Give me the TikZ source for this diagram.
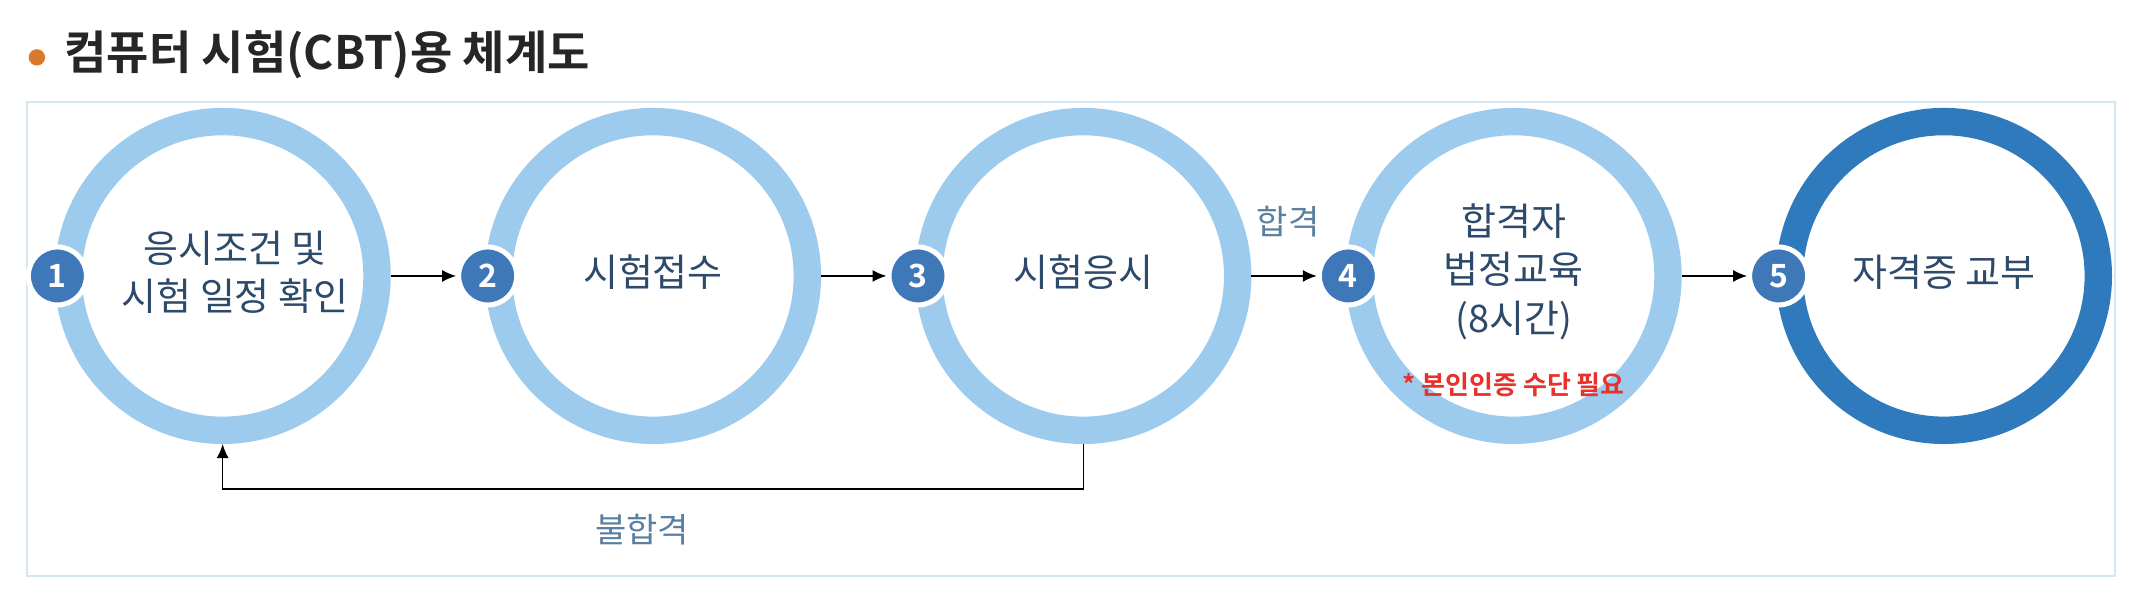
\documentclass[tikz,border=0pt]{standalone}
\usepackage{fontspec}
\newfontfamily\kr{Noto Sans CJK KR}
\newfontfamily\krb{Noto Sans CJK KR Bold}
\usetikzlibrary{arrows.meta}
\definecolor{ringc}{HTML}{9DCBEE}
\definecolor{ringd}{HTML}{2F79BD}
\definecolor{badgec}{HTML}{3E78B8}
\definecolor{txtc}{HTML}{2E4A6B}
\definecolor{lblc}{HTML}{5A7FA0}
\definecolor{redc}{HTML}{E8312A}
\definecolor{framec}{HTML}{D6E6F0}
\definecolor{bulc}{HTML}{D97A2B}
\begin{document}
\begin{tikzpicture}[x=0.683pt,y=-0.683pt,
  ring/.style={circle,draw=ringc,line width=13.7pt,minimum size=226*0.683pt,inner sep=0pt},
  ringdark/.style={ring,draw=ringd},
  badge/.style={circle,fill=badgec,draw=white,line width=2.5pt,minimum size=29pt,inner sep=0pt,text=white,font=\krb\fontsize{16}{16}\selectfont},
  steptxt/.style={text=txtc,font=\kr\fontsize{19}{24}\selectfont,align=center},
  lbl/.style={text=lblc,font=\kr\fontsize{17}{20}\selectfont},
  conn/.style={-{Latex[length=7pt,width=6pt]},line width=0.8pt}]
\useasboundingbox (0,0) rectangle (1568,443);
\fill[white] (0,0) rectangle (1568,443);
\draw[framec,line width=1pt] (20,75) rectangle (1548,422);
\fill[bulc] (27,42) circle (6);
\node[anchor=west,font=\krb\fontsize{23}{26}\selectfont,text=black!85] (title) at (42,40) {컴퓨터 시험(CBT)용 체계도};
\foreach \i/\x in {1/163,2/478,3/793,4/1108}{
  \node[ring] (c\i) at (\x,202) {};
}
\node[ringdark] (c5) at (1423,202) {};
\foreach \i/\x in {1/42,2/357,3/672,4/987,5/1302}{
  \node[badge] (b\i) at (\x,202) {\i};
}
\node[steptxt] (t1) at (172,199) {응시조건 및\\시험 일정 확인};
\node[steptxt] (t2) at (478,199) {시험접수};
\node[steptxt] (t3) at (793,199) {시험응시};
\node[steptxt] (t4) at (1108,199) {합격자\\법정교육\\(8시간)};
\node[steptxt] (t5) at (1423,199) {자격증 교부};
\node[text=redc,font=\krb\fontsize{13}{14}\selectfont] (note) at (1108,282) {* 본인인증 수단 필요};
\draw[conn] (c1.east) -- (b2.west);
\draw[conn] (c2.east) -- (b3.west);
\draw[conn] (c3.east) -- (b4.west);
\draw[conn] (c4.east) -- (b5.west);
\coordinate (d1) at (793,358);
\coordinate (d2) at (163,358);
\draw[conn] (c3.south) -- (d1) -- (d2) -- (c1.south);
\node[lbl] (pass) at (943,162) {합격};
\node[lbl] (fail) at (470,388) {불합격};
\end{tikzpicture}
\end{document}
